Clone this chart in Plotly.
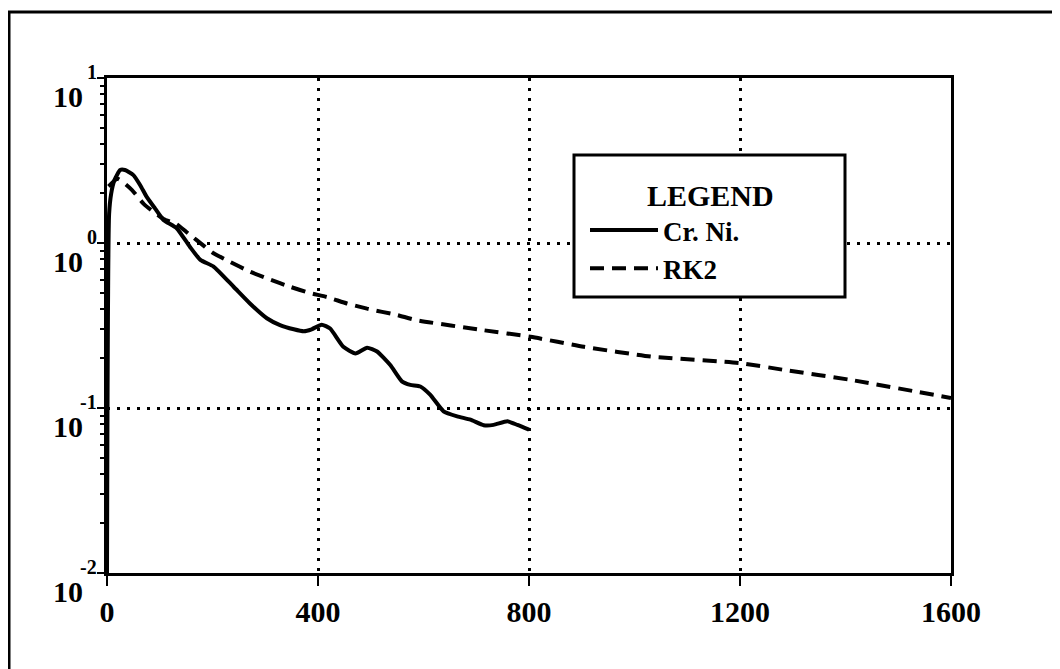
import plotly.graph_objects as go

# ---- data ----
crni_x = [0, 4, 8, 14, 25, 34, 50, 63, 75, 91, 107, 132, 157, 177, 202, 240, 271, 303,
          328, 354, 373, 388, 407, 423, 448, 471, 493, 512, 537, 559, 575, 594, 613,
          638, 664, 689, 714, 733, 759, 778, 800]
crni_y = [0.01, 1.5, 2.0, 2.4, 2.77, 2.77, 2.58, 2.24, 1.91, 1.62, 1.38, 1.23, 0.95,
          0.79, 0.72, 0.543, 0.43, 0.35, 0.318, 0.300, 0.292, 0.30, 0.32, 0.303, 0.235,
          0.214, 0.232, 0.22, 0.182, 0.145, 0.138, 0.135, 0.12, 0.0955, 0.089, 0.085,
          0.0787, 0.079, 0.083, 0.079, 0.074]

rk2_x = [3, 20, 47, 70, 107, 132, 150, 170, 202, 233, 271, 309, 347, 382, 417, 455,
         493, 550, 588, 714, 803, 904, 1031, 1201, 1284, 1410, 1600]
rk2_y = [2.2, 2.45, 2.1, 1.72, 1.40, 1.30, 1.17, 1.04, 0.867, 0.77, 0.67, 0.60, 0.543,
         0.50, 0.47, 0.43, 0.40, 0.366, 0.34, 0.296, 0.27, 0.235, 0.205, 0.187, 0.17,
         0.148, 0.115]

x_ticks = [0, 400, 800, 1200, 1600]
x_ticktext = ["0", "400", "800", "1200", "1600"]
y_decades = [-2, -1, 0, 1]
y_exp_text = ["-2", "-1", "0", "1"]

series_names = ["Cr. Ni.", "RK2"]
legend_title = "LEGEND"

FONT = "Liberation Serif"

fig = go.Figure()
fig.add_trace(go.Scatter(x=crni_x, y=crni_y, mode="lines", name=series_names[0],
                         line=dict(color="black", width=4, shape="spline", smoothing=0.5)))
fig.add_trace(go.Scatter(x=rk2_x, y=rk2_y, mode="lines", name=series_names[1],
                         line=dict(color="black", width=4, dash="14px,8px",
                                   shape="spline", smoothing=0.5)))

# page body adds an 8px offset; margins compensate so the plot lands at 107..951 x 78..573
fig.update_layout(
    width=1060, height=669,
    margin=dict(l=99, r=117, t=70, b=104),
    paper_bgcolor="white", plot_bgcolor="white",
    font=dict(family=FONT, color="black", size=28),
    showlegend=True,
    legend=dict(x=(585 - 107) / 844, y=(573 - 206) / 495, xanchor="left", yanchor="top",
                bgcolor="rgba(0,0,0,0)", borderwidth=0, itemwidth=68,
                font=dict(family=FONT, size=27, color="black", weight="bold")),
)

fig.update_xaxes(
    range=[0, 1600], tickvals=x_ticks, ticktext=x_ticktext,
    showline=True, mirror=True, linewidth=3, linecolor="black",
    ticks="outside", ticklen=10, tickwidth=2, tickcolor="black",
    tickfont=dict(family=FONT, size=30, color="black", weight="bold"),
    showgrid=True, gridcolor="black", gridwidth=3, griddash="3px,7px",
    zeroline=False,
)
fig.update_yaxes(
    type="log", range=[-2, 1], dtick=1,
    showline=True, mirror=True, linewidth=3, linecolor="black",
    ticks="outside", ticklen=7, tickwidth=2, tickcolor="black",
    showticklabels=False,
    showgrid=True, gridcolor="black", gridwidth=3, griddash="3px,7px",
    zeroline=False,
    minor=dict(ticks="outside", ticklen=4, tickwidth=2, tickcolor="black",
               dtick="D1", showgrid=False),
)

# y tick labels drawn as 10 with a raised exponent
for k, e in zip(y_decades, y_exp_text):
    fig.add_annotation(x=0, xref="paper", y=k, yref="y", text="10", showarrow=False,
                       xanchor="right", yanchor="middle", xshift=-22, yshift=-18,
                       font=dict(family=FONT, size=30, color="black", weight="bold"))
    fig.add_annotation(x=0, xref="paper", y=k, yref="y", text=e, showarrow=False,
                       xanchor="right", yanchor="middle", xshift=-8, yshift=6,
                       font=dict(family=FONT, size=20, color="black", weight="bold"))

# legend box and title
fig.add_shape(type="rect", xref="paper", yref="paper",
              x0=(574 - 107) / 844, x1=(845 - 107) / 844,
              y0=(573 - 297) / 495, y1=(573 - 155) / 495,
              line=dict(color="black", width=3), fillcolor="white", layer="above")
fig.add_annotation(x=(710 - 107) / 844, y=(573 - 195) / 495, xref="paper", yref="paper",
                   text=legend_title, showarrow=False, xanchor="center", yanchor="middle",
                   font=dict(family=FONT, size=30, color="black", weight="bold"))

# outer page frame
fig.add_shape(type="rect", xref="paper", yref="paper",
              x0=(9 - 107) / 844, x1=(1080 - 107) / 844,
              y0=(573 - 690) / 495, y1=(573 - 12) / 495,
              line=dict(color="black", width=3), fillcolor="rgba(0,0,0,0)", layer="below")

fig.write_html("out.html")
